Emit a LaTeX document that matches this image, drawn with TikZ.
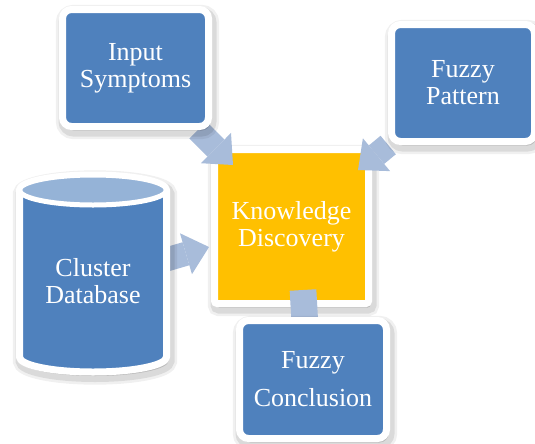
\documentclass[tikz,border=0pt]{standalone}
\usepackage{fontspec}
\setmainfont{Liberation Serif}
\newfontfamily\boxfont{Liberation Serif}
\usetikzlibrary{arrows.meta,calc}

\definecolor{boxblue}{RGB}{79,129,189}
\definecolor{toplight}{RGB}{149,179,215}
\definecolor{kdyellow}{RGB}{255,192,0}
\definecolor{arrowblue}{RGB}{168,188,218}

\pgfdeclarelayer{front}
\pgfsetlayers{main,front}

\tikzset{
  softshadow/.style={
    preaction={draw=black, line width=13pt, draw opacity=0.06, transform canvas={shift={(1.5pt,-3pt)}}},
    preaction={draw=black, line width=9pt, draw opacity=0.09, fill=black, fill opacity=0.15, transform canvas={shift={(1.5pt,-3pt)}}},
  },
  txt/.style={text=white, align=center, inner sep=0pt, font=\boxfont\fontsize{19.5}{20.25}\selectfont},
  bluebox/.style={txt, rectangle, rounded corners=6.75pt, draw=white, line width=5.25pt, fill=boxblue, softshadow},
  kdbox/.style={txt, rectangle, rounded corners=2pt, draw=white, line width=5.25pt, fill=kdyellow, softshadow},
  cylbody/.style={fill=boxblue, draw=white, line width=5.25pt, line join=round},
  cyltop/.style={fill=toplight, draw=white, line width=3.75pt},
  blockarrow/.style={draw=arrowblue, line width=18pt, -{Triangle[length=18pt, width=32pt, line width=0pt]}},
}

\begin{document}
\begin{tikzpicture}[x=0.75pt,y=-0.75pt]
\useasboundingbox (0,0) rectangle (535,443);

\begin{pgfonlayer}{front}
% Input box
\node[bluebox, minimum width=109.5pt, minimum height=87.75pt] (sym) at (135.5,68) {Input\\Symptoms};
% Pattern box
\node[bluebox, minimum width=107.25pt, minimum height=87.75pt] (pat) at (463,83) {Fuzzy\\Pattern};
% Conclusion box
\node[bluebox, minimum width=110.25pt, minimum height=88.5pt, font=\boxfont\fontsize{19.5}{28.5}\selectfont] (con) at (313,379.5) {Fuzzy\\Conclusion};
% Cylinder
\path[cylbody, softshadow] (19.5,190) -- (19.5,357) arc[start angle=180, end angle=0, x radius=73.5, y radius=15] -- (166.5,190) arc[start angle=0, end angle=-180, x radius=73.5, y radius=15] -- cycle;
\draw[cyltop] (93,190) ellipse[x radius=73.5, y radius=15];
\node[txt] (cdb) at (93,281) {Cluster\\Database};
\end{pgfonlayer}

% Knowledge box
\node[kdbox, minimum width=115.5pt, minimum height=115.5pt] (kd) at (291.5,226.5) {Knowledge\\Discovery};

% Arrow tips
\coordinate (t1) at (233,165);
\coordinate (t2) at (358,170);
\coordinate (t3) at (209,247);
\coordinate (c0) at (303,290);

%Block Arrows
\draw[blockarrow] (sym) -- (t1);
\draw[blockarrow] (pat) -- (t2);
\draw[blockarrow] (cdb) -- (t3);
\draw[blockarrow, line width=20pt] (c0) -- ($(con.north)+(-7,26)$);

\end{tikzpicture}
\end{document}
